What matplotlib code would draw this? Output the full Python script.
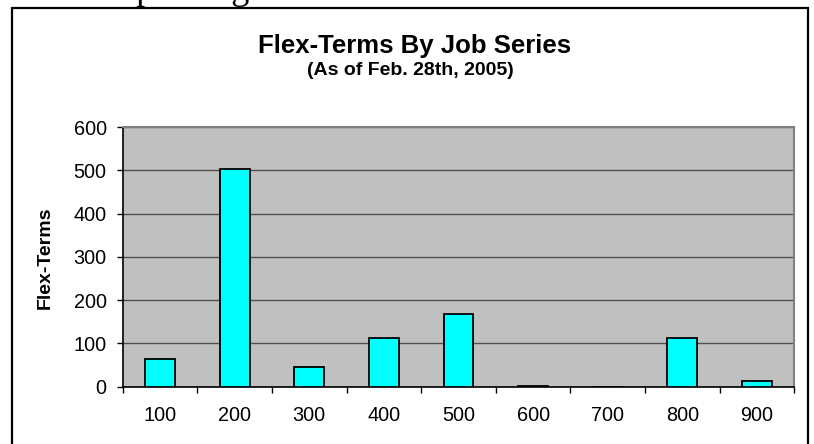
import matplotlib
matplotlib.use("Agg")
import matplotlib.pyplot as plt
from matplotlib.patches import Rectangle
import numpy as np

# job series and flex-term counts
series = ["100", "200", "300", "400", "500", "600", "700", "800", "900"]
flex_terms = [63, 503, 46, 112, 168, 2, 0, 112, 14]
y_ticks = [0, 100, 200, 300, 400, 500, 600]

plt.rcParams["font.family"] = ["Liberation Sans", "DejaVu Sans"]

fig = plt.figure(figsize=(8.14, 4.44), dpi=100)
fig.patch.set_facecolor("white")

# outer chart box (bottom runs off the page)
fig.patches.append(Rectangle((12 / 814, -0.05), (808 - 12) / 814, 1.05 - 8 / 444,
                             transform=fig.transFigure, fill=False,
                             edgecolor="black", linewidth=1.6, zorder=0))

# clipped line of document text above the chart
fig.text(118 / 814, 1 + 1 / 444, "up chang", family="Liberation Serif",
         fontsize=26, ha="left", va="baseline", color="black")

ax = fig.add_axes([122.7 / 814, 57.3 / 444, 671.6 / 814, 259.7 / 444])
ax.set_facecolor("#C0C0C0")

x = np.arange(len(series))
ax.bar(x, flex_terms, width=0.4, color="#00FFFF", edgecolor="black",
       linewidth=1.3, zorder=3)

ax.set_xlim(-0.5, len(series) - 0.5)
ax.set_ylim(0, 600)
ax.set_yticks(y_ticks)
ax.yaxis.grid(True, color="#505050", linewidth=1.0, zorder=1)
ax.set_axisbelow(True)

# ticks at category boundaries, labels at centres
ax.set_xticks(np.arange(-0.5, len(series), 1.0))
ax.set_xticklabels([])
ax.set_xticks(x, minor=True)
ax.set_xticklabels(series, minor=True)
ax.tick_params(axis="x", which="major", direction="out", length=4.5, width=1, color="black")
ax.tick_params(axis="x", which="minor", length=0, pad=14, labelsize=14.3)
ax.tick_params(axis="y", direction="out", length=4.5, width=1, pad=7, labelsize=14.3)

for side in ["left", "bottom"]:
    ax.spines[side].set_color("black")
    ax.spines[side].set_linewidth(1.2)
for side in ["top", "right"]:
    ax.spines[side].set_color("#808080")
    ax.spines[side].set_linewidth(1.5)

ax.set_ylabel("Flex-Terms", fontsize=14, fontweight="bold")
ax.yaxis.set_label_coords(-0.1023, 0.495)

fig.text(415 / 814, 1 - 53 / 444, "Flex-Terms By Job Series", fontsize=18.5,
         fontweight="bold", ha="center", va="baseline")
fig.text(410 / 814, 1 - 75 / 444, "(As of Feb. 28th, 2005)", fontsize=14,
         fontweight="bold", ha="center", va="baseline")

fig.savefig("out.png", dpi=100)
